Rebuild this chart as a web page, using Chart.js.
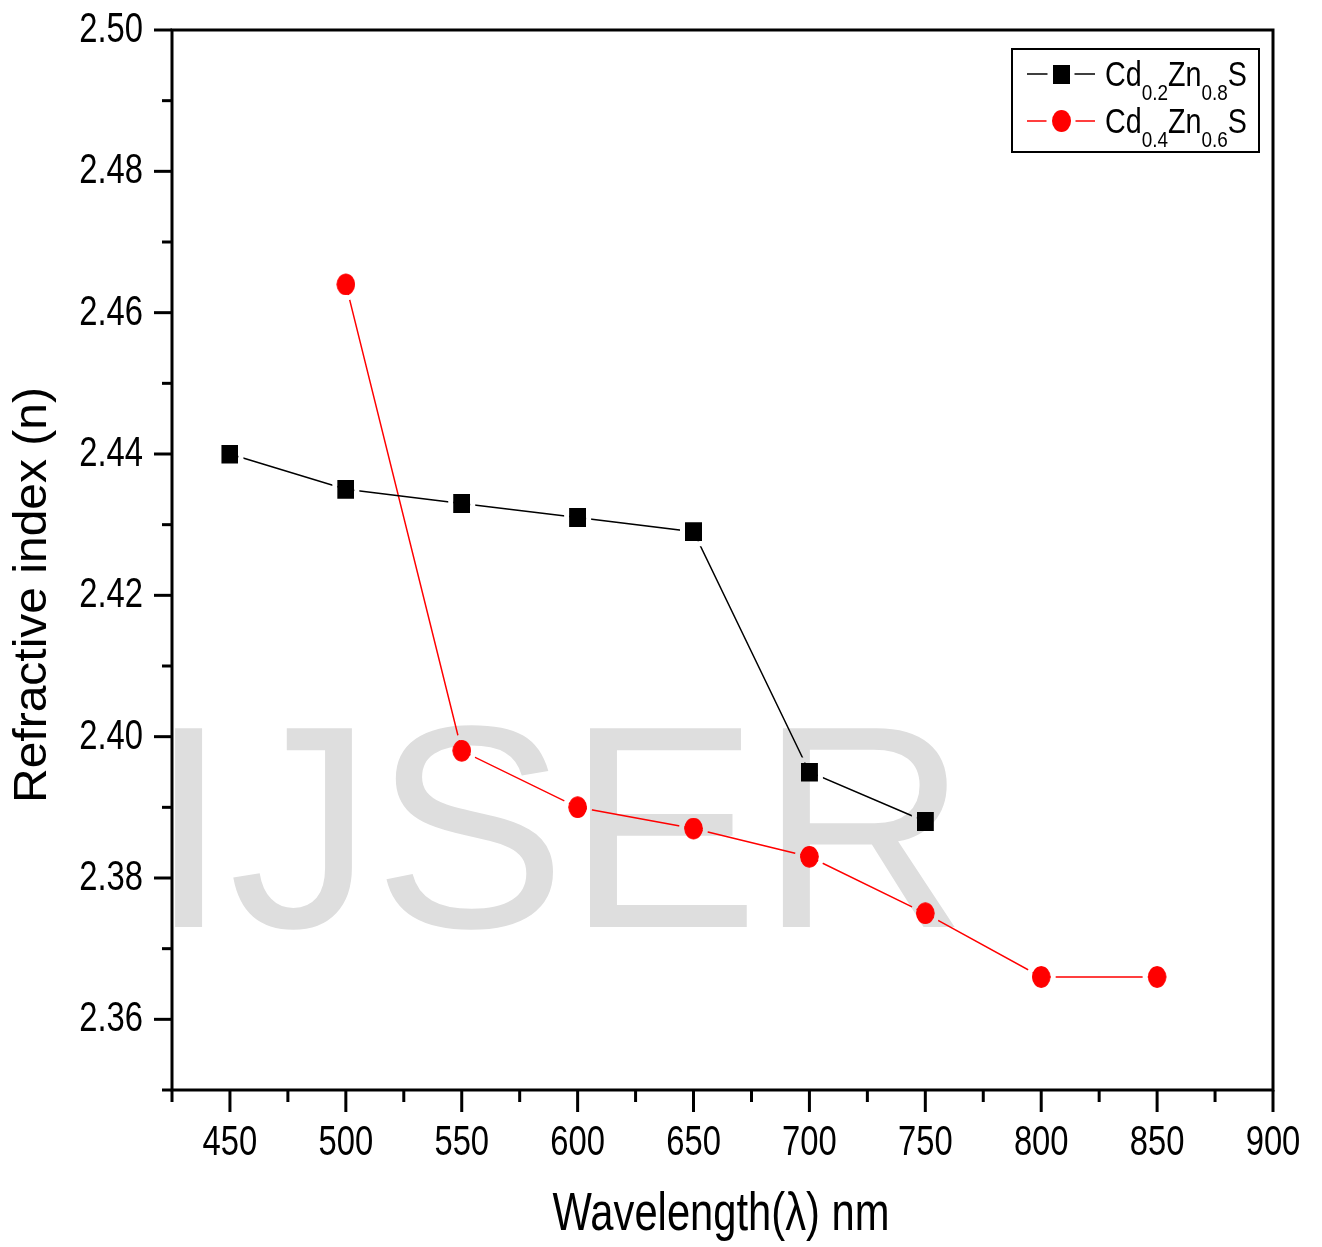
<!DOCTYPE html>
<html>
<head>
<meta charset="utf-8">
<script src="https://cdn.jsdelivr.net/npm/chart.js@4/dist/chart.umd.min.js"></script>
<style>
html,body{margin:0;padding:0;background:#fff;}
canvas{display:block;}
</style>
</head>
<body>
<canvas id="c" width="1322" height="1247"></canvas>
<script>
// ---- data ----
const wavelengthsA = [450, 500, 550, 600, 650, 700, 750];
const refractiveA  = [2.440, 2.435, 2.433, 2.431, 2.429, 2.395, 2.388];
const wavelengthsB = [500, 550, 600, 650, 700, 750, 800, 850];
const refractiveB  = [2.464, 2.398, 2.390, 2.387, 2.383, 2.375, 2.366, 2.366];
const seriesNameA = [["Cd", false], ["0.2", true], ["Zn", false], ["0.8", true], ["S", false]];
const seriesNameB = [["Cd", false], ["0.4", true], ["Zn", false], ["0.6", true], ["S", false]];
const xTickLabels = ["450", "500", "550", "600", "650", "700", "750", "800", "850", "900"];
const yTickLabels = ["2.36", "2.38", "2.40", "2.42", "2.44", "2.46", "2.48", "2.50"];
const xMinorTicks = [425, 475, 525, 575, 625, 675, 725, 775, 825, 875];
const yMinorTicks = [2.35, 2.37, 2.39, 2.41, 2.43, 2.45, 2.47, 2.49];
const xTitle = "Wavelength(\u03bb) nm";
const yTitle = "Refractive index (n)";
const watermark = "IJSER";

const FONT = '"Liberation Sans", Arial, sans-serif';
const COND = 0.78;
const GAP = 5;

const markerSpec = [
  {shape: 'rect', w: 17, h: 19, color: '#000000'},
  {shape: 'ellipse', w: 19, h: 22, color: '#ff0000'}
];

function makeMarker(spec) {
  const c = document.createElement('canvas');
  c.width = spec.w; c.height = spec.h;
  const g = c.getContext('2d');
  g.fillStyle = spec.color;
  if (spec.shape === 'rect') {
    g.fillRect(0, 0, spec.w, spec.h);
  } else {
    g.beginPath(); g.ellipse(spec.w / 2, spec.h / 2, spec.w / 2, spec.h / 2, 0, 0, Math.PI * 2); g.fill();
  }
  return c;
}
const markerA = makeMarker(markerSpec[0]);
const markerB = makeMarker(markerSpec[1]);

function addShape(ctx, spec, x, y, pad) {
  const w = spec.w / 2 + pad, h = spec.h / 2 + pad;
  if (spec.shape === 'rect') {
    ctx.rect(x - w, y - h, 2 * w, 2 * h);
  } else {
    ctx.moveTo(x + w, y);
    ctx.ellipse(x, y, w, h, 0, 0, Math.PI * 2);
  }
}

function drawText(ctx, txt, x, y, size, align, sx, color) {
  ctx.save();
  ctx.font = size + 'px ' + FONT;
  ctx.fillStyle = color || '#000';
  ctx.textBaseline = 'alphabetic';
  ctx.textAlign = 'left';
  const w = ctx.measureText(txt).width * sx;
  const left = align === 'center' ? x - w / 2 : (align === 'right' ? x - w : x);
  ctx.translate(left, y);
  ctx.scale(sx, 1);
  ctx.fillText(txt, 0, 0);
  ctx.restore();
  return w;
}

const decorPlugin = {
  id: 'decor',
  beforeDatasetsDraw(chart) {
    const ctx = chart.ctx;
    ctx.save();
    ctx.font = '289px ' + FONT;
    const m = ctx.measureText(watermark);
    const ink = m.actualBoundingBoxLeft + m.actualBoundingBoxRight;
    const sx = 787 / ink;
    ctx.fillStyle = '#dedede';
    ctx.translate(171 + m.actualBoundingBoxLeft * sx, 927);
    ctx.scale(sx, 1);
    ctx.textBaseline = 'alphabetic';
    ctx.fillText(watermark, 0, 0);
    ctx.restore();
  },
  beforeDatasetDraw(chart, args) {
    const ctx = chart.ctx;
    const spec = markerSpec[args.index];
    ctx.save();
    ctx.beginPath();
    ctx.rect(0, 0, chart.width, chart.height);
    args.meta.data.forEach(p => {
      addShape(ctx, spec, p.x, p.y, GAP);
      addShape(ctx, spec, p.x, p.y, 0);
    });
    ctx.clip('evenodd');
  },
  afterDatasetDraw(chart) {
    chart.ctx.restore();
  },
  afterDraw(chart) {
    const ctx = chart.ctx;
    const xs = chart.scales.x, ys = chart.scales.y;
    const a = chart.chartArea;
    ctx.save();
    ctx.strokeStyle = '#000';
    ctx.lineWidth = 3;
    ctx.lineCap = 'butt';
    // frame
    ctx.strokeRect(a.left, a.top, a.right - a.left, a.bottom - a.top);
    // y ticks
    yTickLabels.forEach(t => {
      const py = ys.getPixelForValue(parseFloat(t));
      ctx.beginPath(); ctx.moveTo(a.left - 18, py); ctx.lineTo(a.left, py); ctx.stroke();
      drawText(ctx, t, 143, py + 12, 42, 'right', COND);
    });
    yMinorTicks.forEach(v => {
      const py = ys.getPixelForValue(v);
      ctx.beginPath(); ctx.moveTo(a.left - 10, py); ctx.lineTo(a.left, py); ctx.stroke();
    });
    // x ticks
    xTickLabels.forEach(t => {
      const px = xs.getPixelForValue(parseFloat(t));
      ctx.beginPath(); ctx.moveTo(px, a.bottom); ctx.lineTo(px, a.bottom + 22); ctx.stroke();
      drawText(ctx, t, px, a.bottom + 65, 42, 'center', COND);
    });
    xMinorTicks.forEach(v => {
      const px = xs.getPixelForValue(v);
      ctx.beginPath(); ctx.moveTo(px, a.bottom); ctx.lineTo(px, a.bottom + 12); ctx.stroke();
    });
    // axis titles
    ctx.font = '53px ' + FONT;
    const wx = ctx.measureText(xTitle).width;
    drawText(ctx, xTitle, 721, 1230, 53, 'center', 337 / wx);
    ctx.save();
    ctx.translate(46, 595);
    ctx.rotate(-Math.PI / 2);
    ctx.font = '46px ' + FONT;
    const wy = ctx.measureText(yTitle).width;
    drawText(ctx, yTitle, 0, 0, 46, 'center', 416 / wy);
    ctx.restore();
    // legend
    ctx.lineWidth = 2;
    ctx.strokeRect(1012, 49, 247, 103);
    const rows = [
      {y: 74, color: '#000000', marker: markerA, name: seriesNameA},
      {y: 121, color: '#ff0000', marker: markerB, name: seriesNameB}
    ];
    rows.forEach(r => {
      ctx.lineWidth = 1.5;
      ctx.strokeStyle = r.color;
      const half = r.marker.width / 2 + GAP;
      ctx.beginPath();
      ctx.moveTo(1027, r.y); ctx.lineTo(1061 - half, r.y);
      ctx.moveTo(1061 + half, r.y); ctx.lineTo(1095, r.y);
      ctx.stroke();
      ctx.drawImage(r.marker, Math.round(1061 - r.marker.width / 2), Math.round(r.y - r.marker.height / 2));
      let x = 1105;
      r.name.forEach(([txt, sub]) => {
        if (sub) x += drawText(ctx, txt, x, r.y + 26, 22, 'left', 0.86);
        else x += drawText(ctx, txt, x, r.y + 12, 35, 'left', 0.82);
      });
    });
    ctx.restore();
  }
};

new Chart(document.getElementById('c'), {
  type: 'line',
  data: {
    datasets: [
      {
        label: 'Cd0.2Zn0.8S',
        data: wavelengthsA.map((x, i) => ({x: x, y: refractiveA[i]})),
        borderColor: '#000000',
        backgroundColor: '#000000',
        borderWidth: 1.5,
        pointStyle: markerA,
        pointRadius: 10,
        tension: 0
      },
      {
        label: 'Cd0.4Zn0.6S',
        data: wavelengthsB.map((x, i) => ({x: x, y: refractiveB[i]})),
        borderColor: '#ff0000',
        backgroundColor: '#ff0000',
        borderWidth: 1.5,
        pointStyle: markerB,
        pointRadius: 10,
        tension: 0
      }
    ]
  },
  options: {
    responsive: false,
    animation: false,
    devicePixelRatio: 1,
    layout: {padding: {top: 30, right: 49, left: 0, bottom: 0}},
    plugins: {legend: {display: false}, tooltip: {enabled: false}},
    scales: {
      x: {
        type: 'linear', min: 425, max: 900,
        ticks: {display: false},
        grid: {display: false},
        border: {display: false},
        afterFit(s) { s.height = 157; }
      },
      y: {
        type: 'linear', min: 2.35, max: 2.50,
        ticks: {display: false},
        grid: {display: false},
        border: {display: false},
        afterFit(s) { s.width = 172; }
      }
    }
  },
  plugins: [decorPlugin]
});
</script>
</body>
</html>
